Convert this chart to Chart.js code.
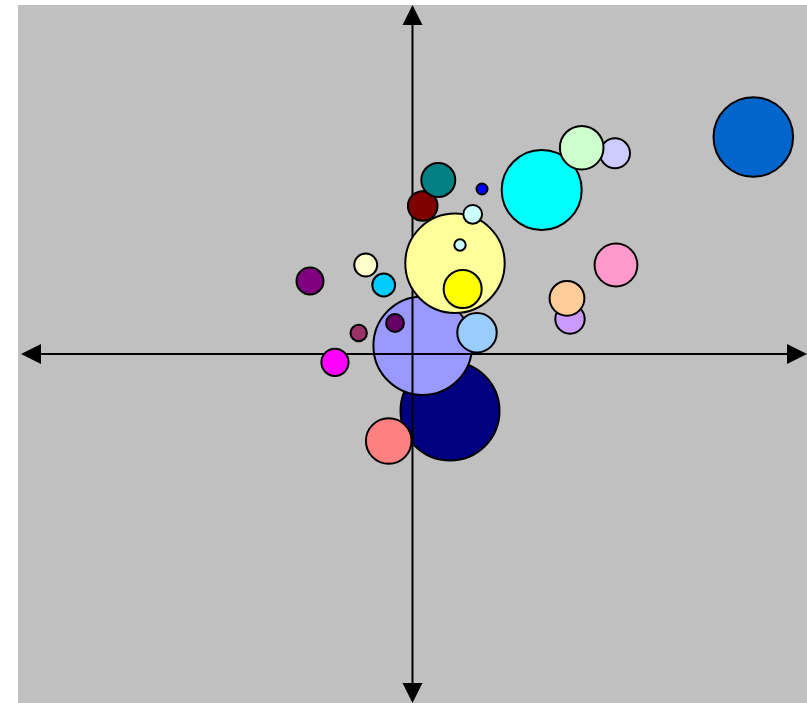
<!DOCTYPE html>
<html>
<head>
<meta charset="utf-8">
<script src="https://cdn.jsdelivr.net/npm/chart.js@4.4.1/dist/chart.umd.min.js"></script>
<style>
  html, body { margin:0; padding:0; background:#ffffff; }
  #wrap { width:807px; height:703px; }
</style>
</head>
<body>
<div id="wrap"><canvas id="chart" width="807" height="703"></canvas></div>
<script>
  // bubbles, in drawing order (later ones sit on top)
  const xs     = [-4.44,  2.59, 10.77, 16.35, 12.72, 12.04, 15.26,  6.54, 17.62, -6.03,
                  -11.86, -25.98, -7.30, -13.64, -19.65, 32.75, 51.33, 42.89, 86.39, 51.58, 39.92, 39.16];
  const ys     = [ 8.88, 42.41, 25.99,  6.10, 18.62, 31.23, 40.03, 49.86, 47.28, -24.93,
                  25.50, 20.92, 19.77,  6.02, -2.38, 46.99, 57.51, 59.11, 62.18, 25.50, 10.03, 15.96];
  const sizes  = [ 8.9, 14.8, 49.7, 19.7, 19.0,  5.7,  9.4, 17.0,  5.5, 22.8,
                  11.5, 13.5, 11.4,  8.2, 13.6, 40.0, 15.0, 21.8, 39.8, 21.4, 14.7, 17.4];
  const colors = ["#660066","#800000","#FFFF99","#99CCFF","#FFFF00","#CCFFFF","#CCFFFF","#008080","#0000FF","#FF8080",
                  "#FFFFCC","#800080","#00CCFF","#993366","#FF00FF","#00FFFF","#CCCCFF","#CCFFCC","#0066CC","#FF99CC","#CC99FF","#FFCC99"];

  // bubbles lying under the axis lines
  const lowX = [9.51, 2.59];
  const lowY = [-16.33, 2.38];
  const lowR = [49.5, 49.3];
  const lowColors = ["#000080", "#9999FF"];

  function pts(x, y, r){ return x.map((v, i) => ({ x:v, y:y[i], r:r[i] })); }

  const plotBg = {
    id:"plotBg",
    beforeDraw(chart){
      const a = chart.chartArea, ctx = chart.ctx;
      ctx.save();
      ctx.fillStyle = "#C0C0C0";
      ctx.fillRect(a.left, a.top, a.right - a.left, a.bottom - a.top);
      ctx.restore();
    }
  };

  function arrow(ctx, tx, ty, dx, dy){
    // tip at (tx,ty), pointing along (dx,dy)
    const len = 20, half = 10;
    const bx = tx - dx * len, by = ty - dy * len;
    ctx.beginPath();
    ctx.moveTo(tx, ty);
    ctx.lineTo(bx - dy * half, by + dx * half);
    ctx.lineTo(bx + dy * half, by - dx * half);
    ctx.closePath();
    ctx.fill();
  }

  const crossAxes = {
    id:"crossAxes",
    afterDatasetDraw(chart, args){
      if (args.index !== 1) return;
      const a = chart.chartArea, ctx = chart.ctx;
      const x0 = chart.scales.x.getPixelForValue(0);
      const y0 = chart.scales.y.getPixelForValue(0);
      ctx.save();
      ctx.strokeStyle = "#000";
      ctx.fillStyle = "#000";
      ctx.lineWidth = 2;
      ctx.beginPath();
      ctx.moveTo(x0, a.top + 12); ctx.lineTo(x0, a.bottom - 12);
      ctx.moveTo(a.left + 14, y0); ctx.lineTo(a.right - 12, y0);
      ctx.stroke();
      arrow(ctx, x0, a.top, 0, -1);
      arrow(ctx, x0, a.bottom, 0, 1);
      arrow(ctx, a.left + 3, y0, -1, 0);
      arrow(ctx, a.right, y0, 1, 0);
      ctx.restore();
    }
  };

  new Chart(document.getElementById("chart"), {
    type:"bubble",
    data:{
      datasets:[
        { data: pts(xs, ys, sizes), backgroundColor: colors, borderColor:"#000", borderWidth:2, hoverBorderWidth:2 },
        { data: pts(lowX, lowY, lowR), backgroundColor: lowColors, borderColor:"#000", borderWidth:2, hoverBorderWidth:2 }
      ]
    },
    options:{
      responsive:false,
      animation:false,
      events:[],
      layout:{ autoPadding:false, padding:{ left:18, top:5, right:0, bottom:0 } },
      plugins:{ legend:{ display:false }, tooltip:{ enabled:false } },
      scales:{
        x:{ type:"linear", min:-100, max:100, display:false },
        y:{ type:"linear", min:-100, max:100, display:false }
      }
    },
    plugins:[plotBg, crossAxes]
  });
</script>
</body>
</html>
